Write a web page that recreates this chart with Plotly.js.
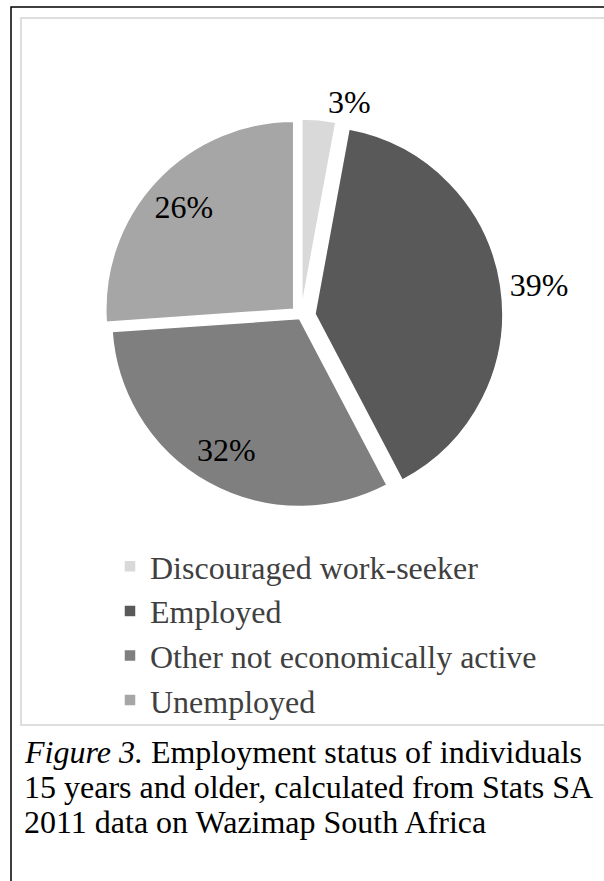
<!DOCTYPE html>
<html>
<head>
<meta charset="utf-8">
<script src="https://cdn.plot.ly/plotly-3.0.1.min.js"></script>
<style>
  html, body { margin: 0; padding: 0; background: #ffffff; }
  #chart { width: 604px; height: 881px; }
</style>
</head>
<body>
<div id="chart"></div>
<script>
// ---- data ----
const categories = ["Discouraged work-seeker", "Employed", "Other not economically active", "Unemployed"];
const shares = [2.9, 39.4, 31.6, 26.1];
const sliceColors = ["#d9d9d9", "#595959", "#7f7f7f", "#a6a6a6"];
const slicePull = [0.048, 0.075, 0.016, 0.053];
const labelPositions = ["outside", "outside", "inside", "inside"];
const captionLines = [
  "<i>Figure 3.</i> Employment status of individuals",
  "15 years and older, calculated from Stats SA",
  "2011 data on Wazimap South Africa"
];

const SERIF = "'Liberation Serif', 'Times New Roman', Times, serif";
const W = 604, H = 881;
const px = v => v / W;
const py = v => 1 - v / H;

const pieDomain = { x: [px(99), px(503)], y: [py(518), py(114)] };

const pieTrace = {
  type: "pie",
  labels: categories,
  values: shares,
  sort: false,
  direction: "clockwise",
  rotation: 0,
  pull: slicePull,
  marker: { colors: sliceColors, line: { color: "#ffffff", width: 1.5 } },
  textinfo: "none",
  hoverinfo: "label+percent",
  domain: pieDomain,
  showlegend: true
};

// transparent overlay of the same data, used only to place the percentage labels
const labelTrace = {
  type: "pie",
  labels: categories,
  values: shares,
  sort: false,
  direction: "clockwise",
  rotation: 0,
  pull: slicePull,
  hole: 0.6,
  marker: { colors: categories.map(() => "rgba(0,0,0,0)"), line: { width: 0 } },
  texttemplate: "%{percent:.0%}",
  textposition: labelPositions,
  insidetextorientation: "horizontal",
  textfont: { family: SERIF, size: 32, color: "#000000" },
  outsidetextfont: { family: SERIF, size: 32, color: "#000000" },
  insidetextfont: { family: SERIF, size: 32, color: "#000000" },
  hoverinfo: "skip",
  domain: pieDomain,
  showlegend: false
};

const annotations = captionLines.map((t, i) => ({
  xref: "paper", yref: "paper",
  x: px(22), y: py(752 + i * 35),
  xanchor: "left", yanchor: "middle",
  text: t, showarrow: false,
  font: { family: SERIF, size: 32, color: "#000000" }
}));

const layout = {
  width: W, height: H,
  margin: { l: 0, r: 0, t: 0, b: 0, pad: 0 },
  paper_bgcolor: "#ffffff",
  plot_bgcolor: "#ffffff",
  font: { family: SERIF, color: "#000000" },
  showlegend: true,
  legend: {
    x: px(110), y: py(539), xanchor: "left", yanchor: "top",
    orientation: "v",
    font: { family: SERIF, size: 32, color: "#404040" },
    bgcolor: "rgba(0,0,0,0)", borderwidth: 0,
    traceorder: "normal"
  },
  annotations: annotations,
  shapes: [
    { type: "rect", xref: "paper", yref: "paper",
      x0: px(11), x1: 1.05, y0: -0.05, y1: py(7),
      line: { color: "#000000", width: 1.5 }, fillcolor: "rgba(0,0,0,0)" },
    { type: "rect", xref: "paper", yref: "paper",
      x0: px(21), x1: 1.05, y0: py(725), y1: py(18),
      line: { color: "#dedede", width: 2 }, fillcolor: "rgba(0,0,0,0)" }
  ]
};

Plotly.newPlot("chart", [pieTrace, labelTrace], layout, { displayModeBar: false, staticPlot: true });
</script>
</body>
</html>
